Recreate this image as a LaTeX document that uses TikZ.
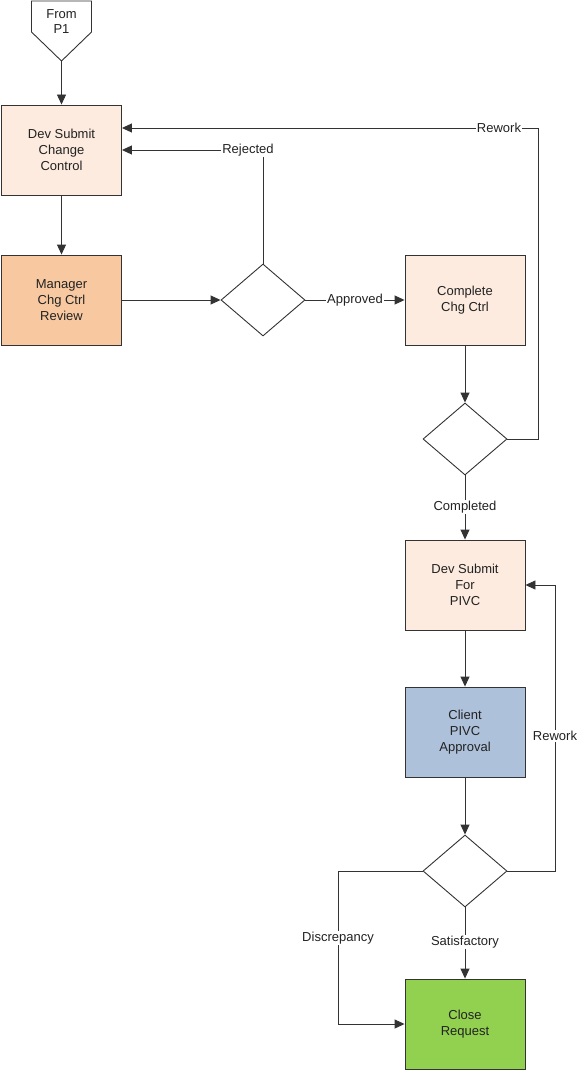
\documentclass[tikz,border=0pt]{standalone}
\usepackage{fontspec}
\setmainfont{Liberation Sans}
\usetikzlibrary{arrows.meta,shapes.geometric}
\definecolor{ln}{HTML}{333333}
\definecolor{txt}{HTML}{222222}
\definecolor{peach}{HTML}{FCEBDE}
\definecolor{apricot}{HTML}{F8C9A1}
\definecolor{steel}{HTML}{AEC1DB}
\definecolor{lime}{HTML}{92D050}
\begin{document}
\begin{tikzpicture}[x=1pt,y=-1pt,
  font=\fontsize{13}{16}\selectfont,
  line/.style={draw=ln, line width=0.9pt},
  arr/.style={line, -{Triangle[length=10pt,width=9pt]}},
  box/.style={line, minimum width=120pt, minimum height=90pt, align=center, text=txt, inner sep=2pt},
  dec/.style={line, diamond, minimum width=84pt, minimum height=72pt, inner sep=0pt, fill=white},
  lbl/.style={fill=white, text=txt, inner sep=1pt}]
\fill[white] (0,0) rectangle (579,1070);
\useasboundingbox (0,0) rectangle (579,1070);

% off-page connector
\draw[line] (31.5,1) -- (91.5,1) -- (91.5,32) -- (61.5,61) -- (31.5,32) -- cycle;
\node[align=center, text=txt, font=\fontsize{13}{15}\selectfont] (from) at (61.5,22) {From\\P1};
\coordinate (p1tip) at (61.5,61);

% nodes
\node[box, fill=peach]   (b1) at (61.5,150)  {Dev Submit\\Change\\Control};
\node[box, fill=apricot] (b2) at (61.5,300)  {Manager\\Chg Ctrl\\Review};
\node[dec]               (d1) at (263,300) {};
\node[box, fill=peach]   (b3) at (465,300) {Complete\\Chg Ctrl};
\node[dec]               (d2) at (465,439) {};
\node[box, fill=peach]   (b4) at (465,585) {Dev Submit\\For\\PIVC};
\node[box, fill=steel]   (b5) at (465,732) {Client\\PIVC\\Approval};
\node[dec]               (d3) at (465,871) {};
\node[box, fill=lime]    (b6) at (465,1024) {Close\\Request};

% connectors
\draw[arr] (p1tip) -- (b1);
\draw[arr] (b1) -- (b2);
\draw[arr] (b2) -- (d1);
\draw[arr] (d1.north) |- (b1.east);
\draw[arr] (d1) -- (b3);
\draw[arr] (b3) -- (d2);
\coordinate (rwA) at (538,128);
\draw[arr] (d2.east) -| (rwA) -- (b1.east |- rwA);
\draw[arr] (d2) -- (b4);
\draw[arr] (b4) -- (b5);
\draw[arr] (b5) -- (d3);
\coordinate (rwB) at (555,871);
\draw[arr] (d3.east) -- (rwB) |- (b4.east);
\draw[arr] (d3) -- (b6);
\coordinate (dsc) at (338,871);
\draw[arr] (d3.west) -- (dsc) |- (b6.west);

% labels
\node[lbl] (lrej) at (248,150) {Rejected};
\node[lbl] (lrw1) at (499,128) {Rework};
\node[lbl] (lapp) at (355,300) {Approved};
\node[lbl] (lcom) at (465,507) {Completed};
\node[lbl] (lrw2) at (555,736) {Rework};
\node[lbl] (lsat) at (465,942) {Satisfactory};
\node[lbl] (ldis) at (338,938) {Discrepancy};
\end{tikzpicture}
\end{document}
